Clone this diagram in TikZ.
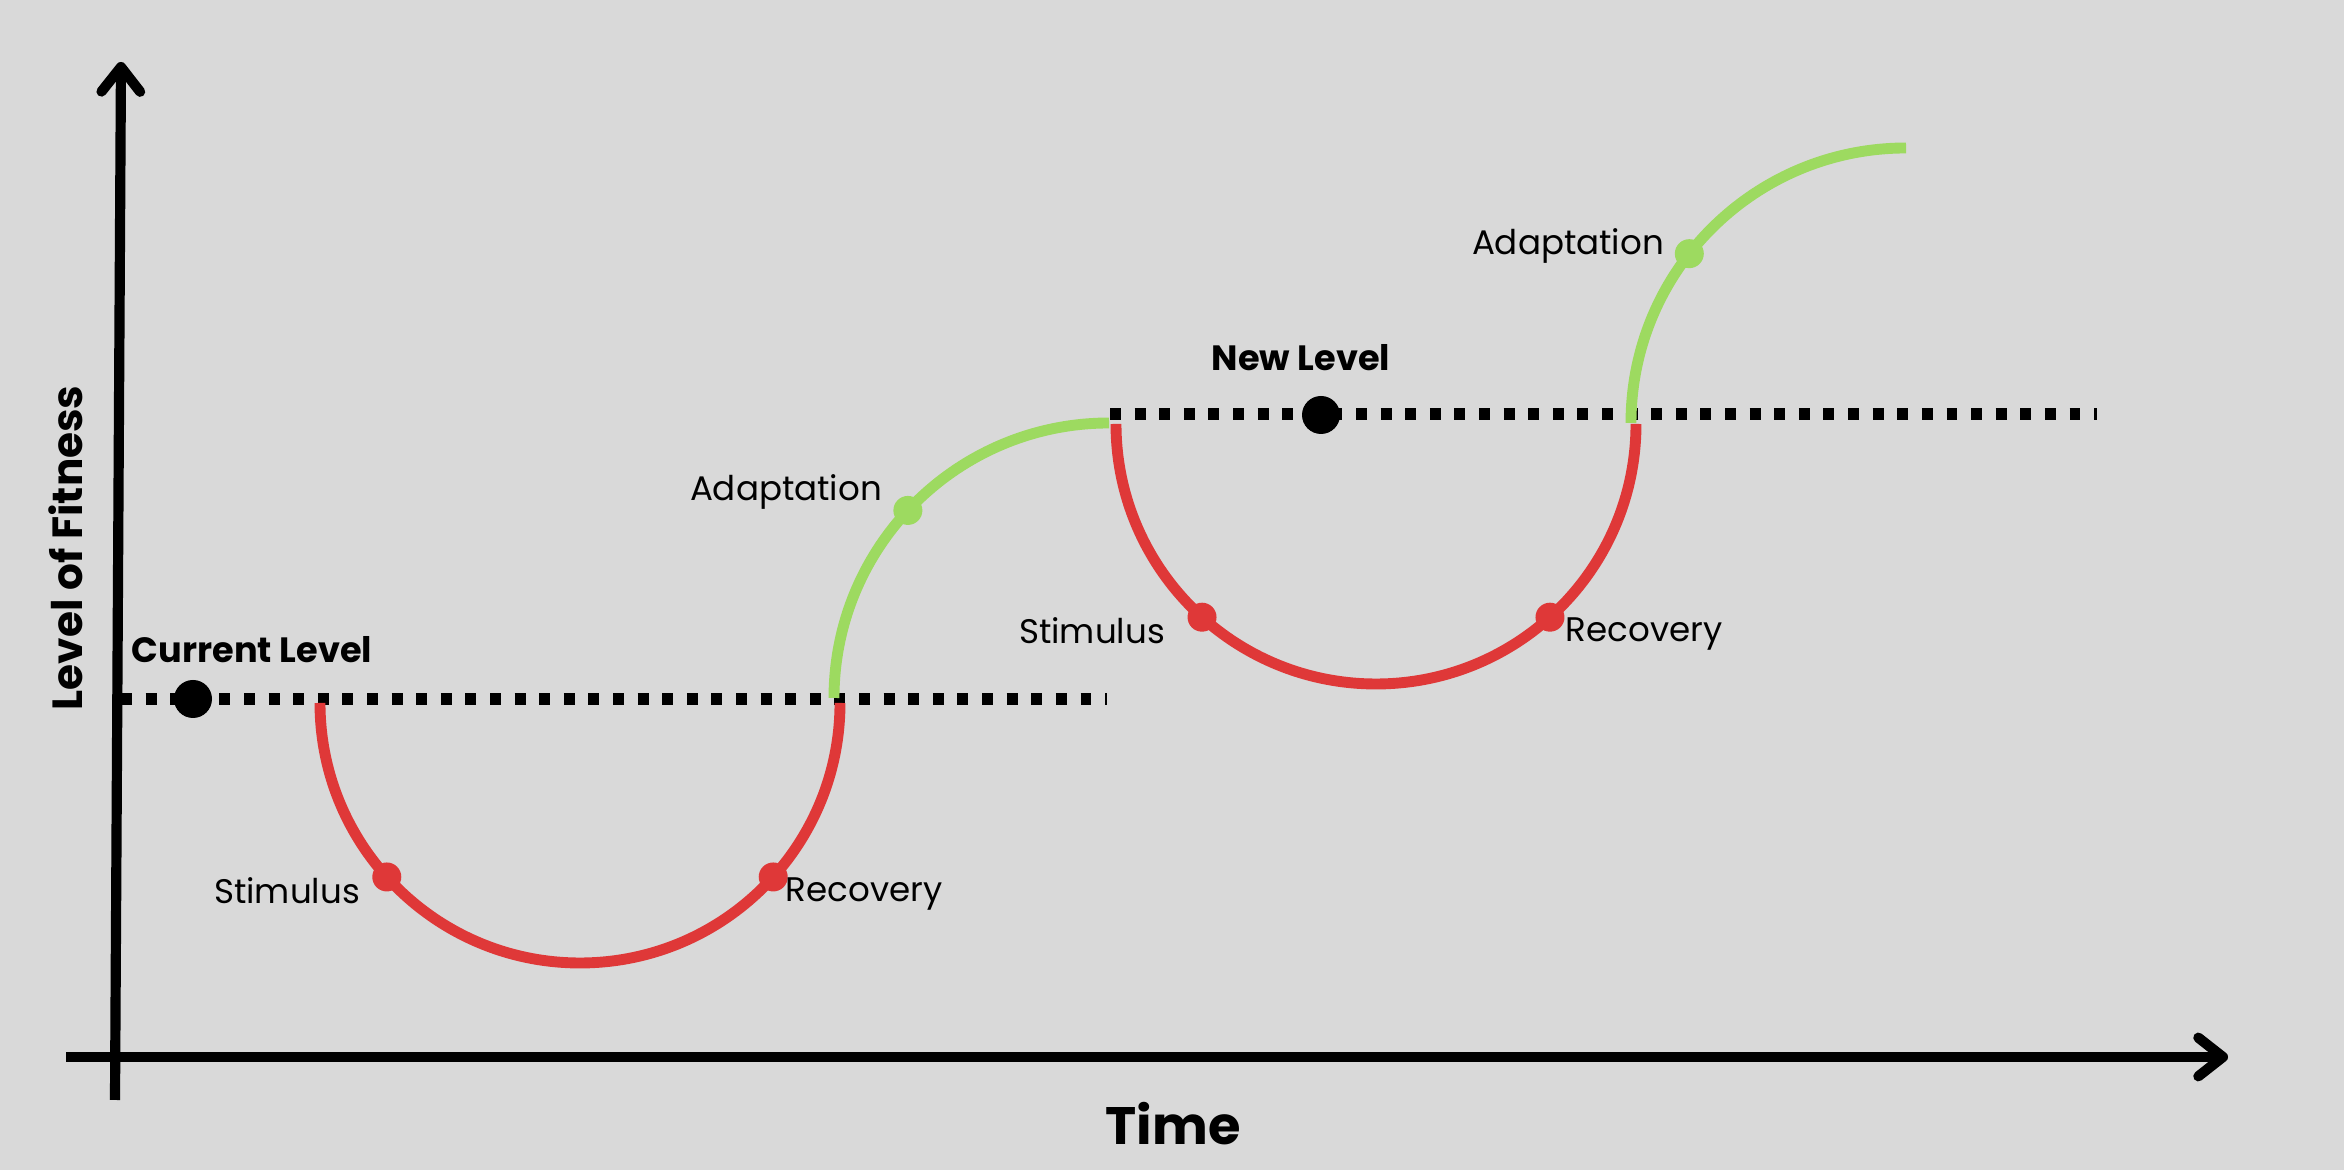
\documentclass[tikz,border=0pt]{standalone}
\usepackage{fontspec}
\setmainfont{Poppins}
\usetikzlibrary{arrows.meta}
\definecolor{bggray}{HTML}{D9D9D9}
\definecolor{fitred}{HTML}{DF3838}
\definecolor{fitgreen}{HTML}{9DDA60}

\begin{document}
\begin{tikzpicture}[
  axis/.style = {line width=2.9pt, -{Straight Barb[length=7pt, width=11pt, round]}},
  levelline/.style = {line width=3.4pt, dash pattern=on 3.1pt off 3.9pt},
  redarc/.style = {fitred, line width=3.1pt},
  greenarc/.style = {fitgreen, line width=3.1pt},
  reddot/.style = {circle, fill=fitred, inner sep=0pt, minimum size=0.29cm},
  greendot/.style = {circle, fill=fitgreen, inner sep=0pt, minimum size=0.29cm},
  blackdot/.style = {circle, fill=black, inner sep=0pt, minimum size=0.38cm},
  lbl/.style = {font=\fontsize{9.7}{12}\selectfont},
  boldlbl/.style = {font=\fontsize{10}{12}\selectfont\bfseries}
]
\fill[bggray] (0, 0) rectangle (23.44, 11.70);
\useasboundingbox (0, 0) rectangle (23.44, 11.70);

% axes
\coordinate (ybot) at (1.15, 0.70);
\coordinate (ytop) at (1.21, 11.08);
\coordinate (xleft) at (0.66, 1.13);
\coordinate (xright) at (22.28, 1.13);
\draw[axis] (ybot) -- (ytop);
\draw[axis] (xleft) -- (xright);
\node[boldlbl, font=\fontsize{15}{18}\selectfont\bfseries] (time) at (11.73, 0.46) {Time};
\node[boldlbl, font=\fontsize{12}{14}\selectfont\bfseries, rotate=90] (fitness) at (0.66, 6.22) {Level of Fitness};

% levels
\coordinate (lvla) at (1.21, 4.71);
\coordinate (lvlb) at (11.07, 4.71);
\coordinate (newa) at (11.10, 7.56);
\coordinate (newb) at (20.97, 7.56);
\draw[levelline] (lvla) -- (lvlb);
\draw[levelline] (newa) -- (newb);

% first cycle
\draw[redarc] (3.20, 4.67) arc[start angle=180, end angle=360, radius=2.6];
\draw[greenarc] (8.34, 4.72) arc[start angle=180, end angle=90, radius=2.75];
\node[reddot] (stim1) at ([shift={(222:2.6)}]5.80, 4.67) {};
\node[reddot] (reco1) at ([shift={(318:2.6)}]5.80, 4.67) {};
\node[greendot] (adap1) at ([shift={(137:2.75)}]11.09, 4.72) {};

% second cycle
\draw[redarc] (11.16, 7.46) arc[start angle=180, end angle=360, radius=2.6];
\draw[greenarc] (16.31, 7.47) arc[start angle=180, end angle=90, radius=2.75];
\node[reddot] (stim2) at ([shift={(228:2.6)}]13.76, 7.46) {};
\node[reddot] (reco2) at ([shift={(312:2.6)}]13.76, 7.46) {};
\node[greendot] (adap2) at ([shift={(142:2.75)}]19.06, 7.47) {};

\node[blackdot] (cur) at (1.93, 4.71) {};
\node[blackdot] (new) at (13.21, 7.55) {};
\node[boldlbl] (curlbl) at (2.52, 5.20) {Current Level};
\node[boldlbl] (newlbl) at (13.01, 8.12) {New Level};

\node[lbl] (stim1lbl) at (2.87, 2.79) {Stimulus};
\node[lbl] (reco1lbl) at (8.64, 2.76) {Recovery};
\node[lbl] (adap1lbl) at (7.86, 6.78) {Adaptation};
\node[lbl] (stim2lbl) at (10.92, 5.39) {Stimulus};
\node[lbl] (reco2lbl) at (16.44, 5.36) {Recovery};
\node[lbl] (adap2lbl) at (15.68, 9.24) {Adaptation};
\end{tikzpicture}
\end{document}
